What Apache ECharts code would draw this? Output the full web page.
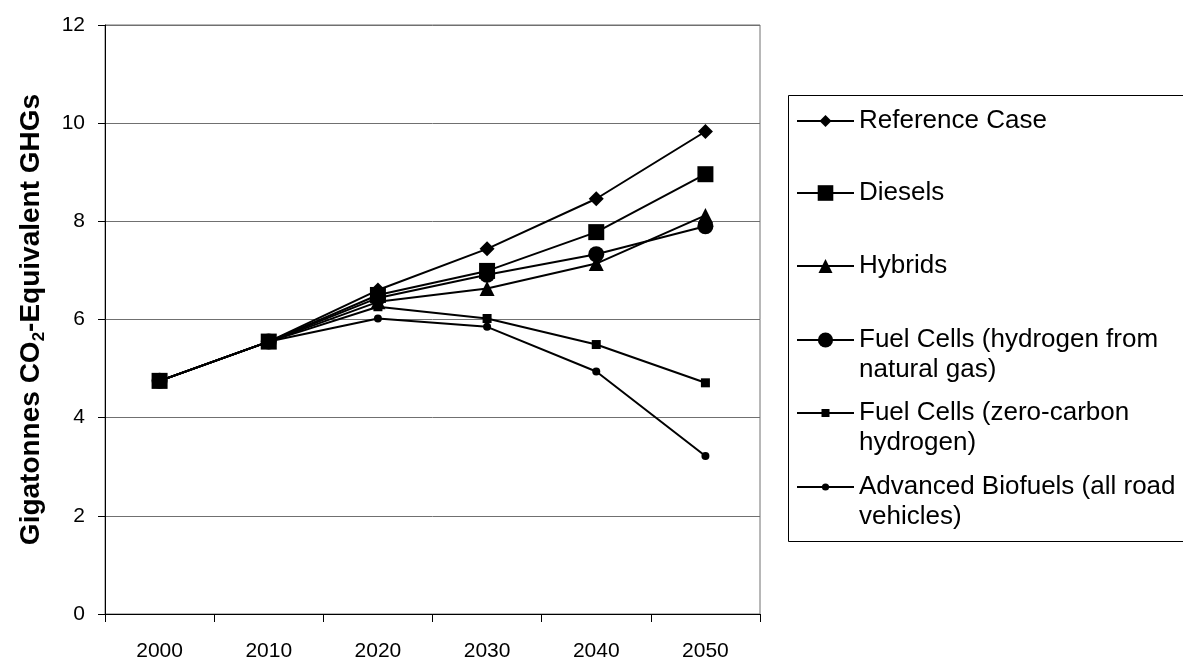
<!DOCTYPE html>
<html><head><meta charset="utf-8">
<script src="https://cdn.jsdelivr.net/npm/echarts@6/dist/echarts.min.js"></script>
<style>html,body{margin:0;padding:0;background:#fff}#c{width:1183px;height:662px}</style>
</head><body><div id="c"></div>
<script>
// ---- data ----
const years = ['2000', '2010', '2020', '2030', '2040', '2050'];
const seriesNames = [
  'Reference Case',
  'Diesels',
  'Hybrids',
  'Fuel Cells (hydrogen from natural gas)',
  'Fuel Cells (zero-carbon hydrogen)',
  'Advanced Biofuels (all road vehicles)'
];
const legendLabels = [
  'Reference Case',
  'Diesels',
  'Hybrids',
  'Fuel Cells (hydrogen from\nnatural gas)',
  'Fuel Cells (zero-carbon\nhydrogen)',
  'Advanced Biofuels (all road\nvehicles)'
];
const referenceCase = [4.75, 5.55, 6.60, 7.44, 8.46, 9.83];
const diesels       = [4.75, 5.55, 6.50, 6.99, 7.78, 8.96];
const hybrids       = [4.75, 5.55, 6.36, 6.63, 7.14, 8.12];
const fcNaturalGas  = [4.75, 5.55, 6.44, 6.91, 7.33, 7.90];
const fcZeroCarbon  = [4.75, 5.55, 6.26, 6.02, 5.49, 4.71];
const advBiofuels   = [4.75, 5.55, 6.02, 5.85, 4.94, 3.22];
const yMin = 0, yMax = 12, yStep = 2;

// ---- styling ----
const FONT = "'Liberation Sans', Arial, sans-serif";
const allData = [referenceCase, diesels, hybrids, fcNaturalGas, fcZeroCarbon, advBiofuels];
const symbols = ['diamond', 'rect', 'triangle', 'circle', 'rect', 'circle'];
const symbolSizes = [15, 16, 15, 16, 9, 8];
const legendItemHeights = [15, 19.5, 17.5, 19, 10, 9];
const legendTops = [106, 178, 251, 295, 368, 442];

const series = seriesNames.map((n, i) => ({
  name: n,
  type: 'line',
  data: allData[i],
  symbol: symbols[i],
  symbolSize: symbolSizes[i],
  showAllSymbol: true,
  lineStyle: { color: '#000', width: 2 },
  itemStyle: { color: '#000' },
  emphasis: { disabled: true },
  animation: false
}));

const legends = seriesNames.map((n, i) => {
  const twoLine = legendLabels[i].indexOf('\n') >= 0;
  return {
    data: [n],
    left: 796,
    top: legendTops[i],
    orient: 'vertical',
    padding: 0,
    itemWidth: 57,
    itemHeight: legendItemHeights[i],
    selectedMode: false,
    // a leading blank line keeps the icon level with the first text line
    formatter: () => (twoLine ? '\n' : '') + legendLabels[i],
    textStyle: { fontFamily: FONT, fontSize: 26, color: '#000', lineHeight: 30 }
  };
});

const chart = echarts.init(document.getElementById('c'), null, { renderer: 'canvas' });
chart.setOption({
  animation: false,
  backgroundColor: '#fff',
  grid: {
    left: 105, right: 423, top: 25, bottom: 48,
    show: true, borderColor: '#707070', borderWidth: 1,
    containLabel: false, outerBoundsMode: 'none'
  },
  xAxis: {
    type: 'category',
    data: years,
    boundaryGap: true,
    axisLine: { lineStyle: { color: '#000', width: 1 } },
    axisTick: { show: true, length: 8, lineStyle: { color: '#000' } },
    axisLabel: { fontFamily: FONT, fontSize: 21, color: '#000', margin: 27 },
    splitLine: { show: false }
  },
  yAxis: {
    type: 'value',
    min: yMin, max: yMax, interval: yStep,
    axisLine: { show: true, lineStyle: { color: '#000', width: 1 } },
    axisTick: { show: true, length: 7, lineStyle: { color: '#000' } },
    axisLabel: { fontFamily: FONT, fontSize: 21, color: '#000', margin: 20 },
    splitLine: { show: true, lineStyle: { color: '#707070', width: 1 } },
    name: '{b|Gigatonnes CO}{s|2}{b|-Equivalent GHGs}',
    nameLocation: 'middle',
    nameGap: 57,
    nameTextStyle: {
      rich: {
        b: { fontFamily: FONT, fontSize: 28, fontWeight: 'bold', color: '#000', lineHeight: 34 },
        s: { fontFamily: FONT, fontSize: 17, fontWeight: 'bold', color: '#000', lineHeight: 34, verticalAlign: 'bottom' }
      }
    }
  },
  legend: legends,
  graphic: [{
    type: 'rect',
    silent: true,
    shape: { x: 788.5, y: 95.5, width: 500, height: 446 },
    style: { fill: 'none', stroke: '#000', lineWidth: 1 }
  }],
  series: series
});
</script>
</body></html>
